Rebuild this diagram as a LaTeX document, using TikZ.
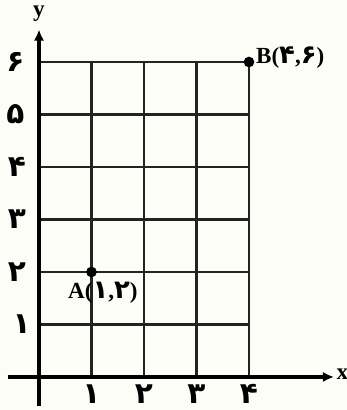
\documentclass[tikz,border=0pt]{standalone}
\usepackage{fontspec}
\setmainfont{Liberation Serif}
\newfontfamily\fadigits{DejaVu Sans}
\usetikzlibrary{arrows.meta}
\definecolor{bgc}{RGB}{253,253,247}
\definecolor{gridc}{RGB}{35,35,35}
\tikzset{
  gridline/.style={draw=gridc, line width=1.4pt},
  axisline/.style={draw=black, line width=1.9pt, -{Latex[length=6pt,width=5.5pt]}},
  numlbl/.style={font=\fadigits\bfseries\fontsize{16}{18}\selectfont, inner sep=0pt},
  ptlbl/.style={font=\bfseries\fontsize{12.5}{14}\selectfont, inner sep=0pt},
  axlbl/.style={font=\bfseries\fontsize{12.5}{14}\selectfont, inner sep=0pt},
  dot/.style={circle, fill=black, inner sep=0pt, minimum size=5.8pt}
}
\newcommand{\fd}[1]{{\fadigits\fontsize{14}{14}\selectfont #1}}
\begin{document}
\begin{tikzpicture}
\fill[bgc] (-0.743,-0.629) rectangle (5.867,7.181);
\useasboundingbox (-0.743,-0.629) rectangle (5.867,7.181);
% grid
\foreach \i in {1,...,4} \draw[gridline] (\i,0) -- (\i,6);
\foreach \j in {1,...,6} \draw[gridline] (0,\j) -- (4,\j);
% axes
\coordinate (xs) at (-0.6,0);
\coordinate (xe) at (5.62,0);
\coordinate (ys) at (0,-0.55);
\coordinate (ye) at (0,6.62);
\draw[axisline] (xs) -- (xe);
\draw[axisline] (ys) -- (ye);
\node[axlbl, anchor=west] (xl) at (5.66,0.05) {x};
\node[axlbl] (yl) at (0,6.92) {y};
% y labels
\node[numlbl] (y1) at (-0.33,1.0) {۱};
\node[numlbl] (y2) at (-0.42,2.0) {۲};
\node[numlbl] (y3) at (-0.42,3.0) {۳};
\node[numlbl] (y4) at (-0.42,4.0) {۴};
\node[numlbl] (y5) at (-0.45,5.0) {۵};
\node[numlbl] (y6) at (-0.45,6.0) {۶};
% x labels
\node[numlbl] (x1) at (1,-0.33) {۱};
\node[numlbl] (x2) at (2,-0.33) {۲};
\node[numlbl] (x3) at (3,-0.33) {۳};
\node[numlbl] (x4) at (4,-0.33) {۴};
% points
\node[dot] (A) at (1,2) {};
\node[dot] (B) at (4,6) {};
\node[ptlbl, anchor=west] (Al) at (0.55,1.6) {A(\fd{۱},\fd{۲})};
\node[ptlbl, anchor=west] (Bl) at (4.13,6.08) {B(\fd{۴},\fd{۶})};
\end{tikzpicture}
\end{document}
